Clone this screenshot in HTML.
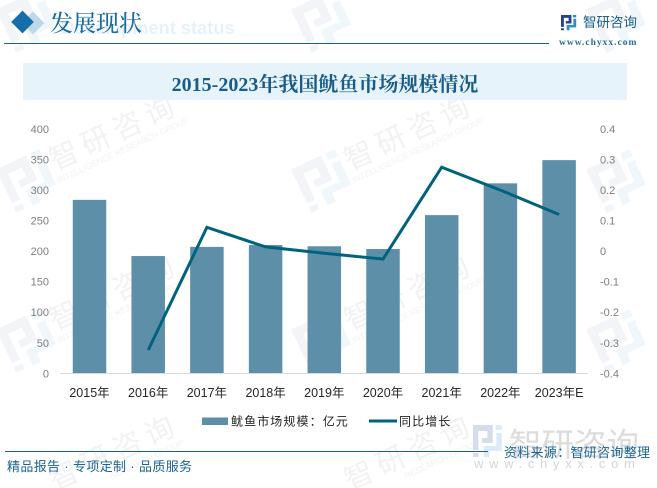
<!DOCTYPE html>
<html lang="zh">
<head>
<meta charset="utf-8">
<title>2015-2023年我国鱿鱼市场规模情况</title>
<style>
html,body{margin:0;padding:0;background:#fff;width:657px;height:488px;overflow:hidden}
svg{display:block}
.sans{font-family:"Liberation Sans","Noto Sans CJK SC",sans-serif}
.serif{font-family:"Liberation Serif","Noto Serif CJK SC",serif}
</style>
</head>
<body>
<svg id="chart" xmlns="http://www.w3.org/2000/svg" width="657" height="488" viewBox="0 0 657 488">
  <defs>
    <g id="logo-left"><path d="M0 0H11V9H5V6.500H8V3H3V12.500H0ZM0 14H3V16H0Z"/></g>
    <g id="logo-right"><path d="M12.500 0H16V2.500H12.500ZM13 4H16V13H9V16H6V10.500H13Z"/></g>
  </defs>
  <g id="watermarks"></g>

  <g>
    <text class="sans" x="61" y="34" font-size="18.300" font-weight="700" fill="#e6f2fa">Development status</text>
    <rect x="-8" y="-8" width="16" height="16" transform="translate(33 23) rotate(45)" fill="#bcd9e9"/>
    <rect x="-8" y="-8" width="16" height="16" transform="translate(22.500 22) rotate(45)" fill="#156ea8"/>
    <text class="serif" x="50" y="31" font-size="23" font-weight="500" fill="#1b6ca3">发展现状</text>
    <line x1="4" y1="43.500" x2="549" y2="43.500" stroke="#1a5f8e" stroke-width="1"/>
  </g>

  <g>
    <g transform="translate(561 15) scale(.95)">
      <use href="#logo-left" fill="#2b3f8c"/>
      <use href="#logo-right" fill="#2a8fd0"/>
    </g>
    <text class="sans" x="583" y="27" font-size="13.500" fill="#1a5f8e">智研咨询</text>
    <text class="serif" x="559" y="45" font-size="9.500" font-weight="700" letter-spacing="1" fill="#2b6a96">www.chyxx.com</text>
  </g>

  <rect x="23" y="63" width="604" height="37" fill="#e6f3fb"/>
  <text class="serif" x="325" y="91" text-anchor="middle" font-size="20" font-weight="700" fill="#1a5c88">2015-2023年我国鱿鱼市场规模情况</text>

  <g id="bars"></g>
  <line x1="60" y1="373.500" x2="588" y2="373.500" stroke="#d9d9d9" stroke-width="1"/>
  <polyline id="growth-line" fill="none" stroke="#00627f" stroke-width="3" stroke-linejoin="miter"/>
  <g id="left-ticks"></g>
  <g id="right-ticks"></g>
  <g id="x-labels"></g>

  <g>
    <rect x="202" y="417.500" width="26" height="7.500" fill="#5d90a8"/>
    <text class="sans" x="231" y="425.500" font-size="12" letter-spacing="1.100" fill="#222">鱿鱼市场规模：亿元</text>
    <line x1="369" y1="421" x2="397" y2="421" stroke="#00627f" stroke-width="3"/>
    <text class="sans" x="399" y="425.500" font-size="12" letter-spacing="1.100" fill="#222">同比增长</text>
  </g>

  <g>
    <g transform="translate(473 425) scale(1.8 2)">
      <use href="#logo-left" fill="#d5dceb"/>
      <use href="#logo-right" fill="#d9ecf7"/>
    </g>
    <text class="sans" x="509" y="456" font-size="32.500" fill="#dcdcdc">智研咨询</text>
    <text class="sans" x="474" y="468" font-size="13" letter-spacing="5.700" fill="#d6d6d6">www.chyxx.com</text>
  </g>

  <g>
    <line x1="5" y1="451.500" x2="488" y2="451.500" stroke="#1a5f8e" stroke-width="1"/>
    <text class="sans" x="7" y="471" font-size="13" letter-spacing=".35" fill="#1a6496">精品报告 · 专项定制 · 品质服务</text>
    <text class="sans" x="504" y="457" font-size="13" letter-spacing=".3" fill="#1a6496">资料来源：智研咨询整理</text>
  </g>
</svg>

<script>
const categories = ['2015年','2016年','2017年','2018年','2019年','2020年','2021年','2022年','2023年E'];
const marketSize = [284,192,207,210,208,203.5,259,311,349];
const growthRate = [null,-0.324,0.078,0.014,-0.007,-0.026,0.275,0.2,0.12];
const leftTickLabels = [0,50,100,150,200,250,300,350,400];
const rightTickLabels = [-0.4,-0.3,-0.2,-0.1,0,0.1,0.2,0.3,0.4];

const NS = 'http://www.w3.org/2000/svg';
const plotTop = 129, plotBottom = 373.3, firstX = 89.5, stepX = 58.7, barWidth = 33.5;
const xScale = i => firstX + i * stepX;
const yLeft = v => plotBottom - (v - leftTickLabels[0]) / (leftTickLabels[leftTickLabels.length - 1] - leftTickLabels[0]) * (plotBottom - plotTop);
const yRight = v => plotBottom - (v - rightTickLabels[0]) / (rightTickLabels[rightTickLabels.length - 1] - rightTickLabels[0]) * (plotBottom - plotTop);
const make = (tag, parent) => parent.appendChild(document.createElementNS(NS, tag));

const barsGroup = document.getElementById('bars');
marketSize.forEach((v, i) => {
  const el = make('rect', barsGroup);
  
  
  el.setAttribute('x', xScale(i) - barWidth / 2);
  el.setAttribute('y', yLeft(v));
  el.setAttribute('width', barWidth);
  el.setAttribute('height', plotBottom - yLeft(v));
  el.setAttribute('fill', '#5d90a8');
});

const pts = [];
growthRate.forEach((v, i) => {
  if (v !== null) pts.push(xScale(i).toFixed(1) + ',' + yRight(v).toFixed(1));
});
document.getElementById('growth-line').setAttribute('points', pts.join(' '));

const leftGroup = document.getElementById('left-ticks');
leftTickLabels.forEach(v => {
  const el = make('text', leftGroup);
  
  
  el.setAttribute('class', 'sans');
  el.setAttribute('x', 49);
  el.setAttribute('y', yLeft(v) + 4);
  el.setAttribute('text-anchor', 'end');
  el.setAttribute('font-size', '11');
  el.setAttribute('fill', '#7f7f7f');
  el.textContent = v;
});

const rightGroup = document.getElementById('right-ticks');
rightTickLabels.forEach(v => {
  const el = make('text', rightGroup);
  
  
  el.setAttribute('class', 'sans');
  el.setAttribute('x', 600);
  el.setAttribute('y', yRight(v) + 4);
  el.setAttribute('font-size', '11');
  el.setAttribute('fill', '#7f7f7f');
  el.textContent = v;
});

const xGroup = document.getElementById('x-labels');
categories.forEach((c, i) => {
  const el = make('text', xGroup);
  
  
  el.setAttribute('class', 'sans');
  el.setAttribute('x', xScale(i));
  el.setAttribute('y', 397);
  el.setAttribute('text-anchor', 'middle');
  el.setAttribute('font-size', '12.500');
  el.setAttribute('fill', '#262626');
  el.textContent = c;
});

const wmLayer = document.getElementById('watermarks');
[28, 323, 618].forEach(tx => {
  [21, 181, 341, 501].forEach(ty => {
    const g = make('g', wmLayer);
    
    
    g.setAttribute('transform', 'translate(' + tx + ' ' + ty + ') rotate(-25)');
    const lastRow = ty > 488;
    if (!lastRow) {
      const mark = make('g', g);
      mark.setAttribute('transform', 'translate(-24 -24) scale(3)');
      const a = make('use', mark);
      a.setAttribute('href', '#logo-left');
      a.setAttribute('fill', '#f2f4f8');
      const b = make('use', mark);
      b.setAttribute('href', '#logo-right');
      b.setAttribute('fill', '#eff7fb');
    }
    if (tx < 600 && ty > 100) {
      const name = make('text', g);
      name.setAttribute('class', 'sans');
      name.setAttribute('x', 99);
      name.setAttribute('y', 2);
      name.setAttribute('text-anchor', 'middle');
      name.setAttribute('font-size', '29');
      name.setAttribute('letter-spacing', '6');
      name.setAttribute('fill', '#f2f2f4');
      name.textContent = '智研咨询';
      const sub = make('text', g);
      sub.setAttribute('class', 'sans');
      sub.setAttribute('x', lastRow ? 125 : 99);
      sub.setAttribute('y', 15);
      sub.setAttribute('text-anchor', 'middle');
      sub.setAttribute('font-size', '8.500');
      sub.setAttribute('fill', '#f2f2f4');
      sub.textContent = lastRow ? 'RESEARCH GROUP' : 'INTELLIGENCE RESEARCH GROUP';
    }
  });
});
</script>
</body>
</html>
